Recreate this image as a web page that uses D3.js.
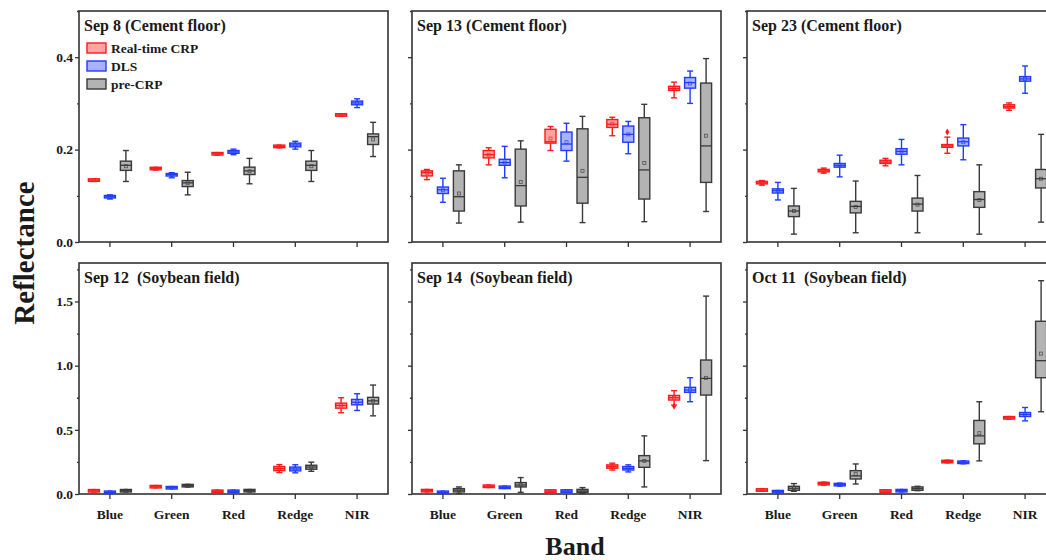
<!DOCTYPE html>
<html>
<head>
<meta charset="utf-8">
<style>
  body { margin: 0; background: #fff; }
  svg { display: block; overflow: hidden; }
  text { font-family: "Liberation Serif", "Times New Roman", serif; font-weight: bold; fill: #1a1a1a; }
</style>
<script src="https://d3js.org/d3.v7.min.js"></script>
</head>
<body>
<script>
// bands and series
var bands = ["Blue", "Green", "Red", "Redge", "NIR"];
var series = ["Real-time CRP", "DLS", "pre-CRP"];

// each row: [min, q1, median, q3, max, mean]
var sep8Real = [[0.131,0.133,0.134,0.135,0.136,0.134],[0.156,0.158,0.159,0.160,0.161,0.159],[0.188,0.190,0.191,0.192,0.193,0.191],[0.204,0.206,0.207,0.208,0.209,0.207],[0.272,0.274,0.275,0.276,0.277,0.275]];
var sep8Dls = [[0.093,0.096,0.098,0.100,0.102,0.098],[0.139,0.143,0.146,0.148,0.150,0.146],[0.189,0.192,0.195,0.198,0.201,0.195],[0.201,0.206,0.210,0.214,0.218,0.210],[0.291,0.297,0.301,0.305,0.310,0.301]];
var sep8Pre = [[0.131,0.155,0.166,0.175,0.198,0.164],[0.102,0.120,0.128,0.133,0.151,0.127],[0.126,0.146,0.154,0.162,0.181,0.153],[0.131,0.155,0.166,0.175,0.198,0.164],[0.185,0.211,0.228,0.234,0.259,0.222]];

var sep13Real = [[0.135,0.143,0.150,0.154,0.157,0.150],[0.167,0.182,0.189,0.198,0.204,0.189],[0.198,0.214,0.217,0.244,0.250,0.224],[0.230,0.248,0.255,0.265,0.270,0.256],[0.312,0.328,0.332,0.337,0.346,0.332]];
var sep13Dls = [[0.086,0.105,0.113,0.119,0.138,0.112],[0.139,0.166,0.172,0.179,0.207,0.172],[0.175,0.198,0.212,0.238,0.257,0.216],[0.191,0.216,0.233,0.251,0.261,0.233],[0.300,0.333,0.345,0.356,0.370,0.343]];
var sep13Pre = [[0.041,0.067,0.098,0.154,0.167,0.105],[0.043,0.078,0.122,0.201,0.219,0.130],[0.042,0.084,0.140,0.245,0.272,0.154],[0.044,0.093,0.156,0.269,0.298,0.171],[0.066,0.129,0.208,0.344,0.397,0.230]];

var sep23Real = [[0.123,0.126,0.128,0.131,0.133,0.128],[0.149,0.152,0.154,0.157,0.160,0.154],[0.165,0.170,0.173,0.177,0.181,0.173],[0.192,0.205,0.208,0.211,0.227,0.208],[0.285,0.290,0.293,0.297,0.301,0.293]];
var sep23Dls = [[0.091,0.106,0.111,0.115,0.129,0.111],[0.141,0.162,0.166,0.170,0.188,0.166],[0.167,0.190,0.196,0.202,0.222,0.196],[0.178,0.208,0.217,0.225,0.254,0.216],[0.322,0.348,0.353,0.358,0.381,0.353]];
var sep23Pre = [[0.017,0.055,0.067,0.078,0.116,0.067],[0.020,0.063,0.077,0.088,0.132,0.076],[0.020,0.067,0.082,0.095,0.144,0.081],[0.017,0.075,0.092,0.109,0.167,0.091],[0.043,0.117,0.137,0.157,0.233,0.137]];

var sep12Real = [[0.018,0.022,0.025,0.028,0.032,0.025],[0.050,0.054,0.057,0.060,0.064,0.057],[0.014,0.018,0.021,0.024,0.028,0.021],[0.167,0.182,0.198,0.214,0.229,0.198],[0.633,0.669,0.690,0.708,0.750,0.690]];
var sep12Dls = [[0.007,0.010,0.013,0.016,0.020,0.013],[0.043,0.046,0.049,0.052,0.056,0.049],[0.014,0.018,0.021,0.024,0.028,0.021],[0.165,0.180,0.195,0.210,0.228,0.195],[0.651,0.695,0.715,0.737,0.781,0.715]];
var sep12Pre = [[0.018,0.022,0.026,0.029,0.033,0.026],[0.056,0.061,0.065,0.069,0.074,0.065],[0.018,0.023,0.026,0.029,0.033,0.026],[0.177,0.193,0.210,0.224,0.248,0.210],[0.609,0.701,0.726,0.753,0.849,0.726]];

var sep14Real = [[0.020,0.023,0.026,0.029,0.032,0.026],[0.053,0.057,0.060,0.063,0.067,0.060],[0.017,0.020,0.023,0.026,0.029,0.023],[0.187,0.201,0.214,0.227,0.240,0.214],[0.693,0.732,0.750,0.768,0.805,0.750]];
var sep14Dls = [[0.007,0.010,0.013,0.016,0.019,0.013],[0.045,0.049,0.052,0.055,0.059,0.052],[0.017,0.020,0.023,0.026,0.029,0.023],[0.172,0.187,0.200,0.214,0.227,0.200],[0.719,0.792,0.810,0.831,0.906,0.810]];
var sep14Pre = [[0.003,0.016,0.030,0.042,0.055,0.030],[0.013,0.055,0.070,0.089,0.128,0.072],[0.003,0.013,0.023,0.036,0.050,0.024],[0.055,0.208,0.258,0.299,0.453,0.258],[0.260,0.771,0.901,1.044,1.542,0.905]];

var oct11Real = [[0.024,0.028,0.031,0.034,0.038,0.031],[0.070,0.077,0.081,0.085,0.092,0.081],[0.016,0.020,0.023,0.026,0.030,0.023],[0.244,0.249,0.253,0.257,0.262,0.253],[0.583,0.589,0.594,0.598,0.603,0.594]];
var oct11Dls = [[0.011,0.015,0.018,0.021,0.025,0.018],[0.062,0.069,0.073,0.077,0.084,0.073],[0.019,0.023,0.026,0.029,0.033,0.026],[0.236,0.242,0.247,0.252,0.258,0.247],[0.570,0.604,0.620,0.635,0.674,0.620]];
var oct11Pre = [[0.021,0.029,0.045,0.060,0.081,0.046],[0.078,0.117,0.141,0.182,0.234,0.155],[0.026,0.029,0.042,0.055,0.060,0.042],[0.258,0.391,0.453,0.573,0.719,0.474],[0.641,0.906,1.039,1.346,1.662,1.094]];

// outliers: [band index, series index, value]
var sep23Outliers = [[3, 0, 0.238]];
var sep14Outliers = [[4, 0, 0.683]];

var topTicks = [0, 0.2, 0.4];
var topMinor = [0.1, 0.3, 0.5];
var bottomTicks = [0, 0.5, 1.0, 1.5];
var bottomMinor = [0.25, 0.75, 1.25, 1.75];

var panels = [
  {title: "Sep 8 (Cement floor)", data: [sep8Real, sep8Dls, sep8Pre], outliers: [], row: 0, col: 0, legend: true},
  {title: "Sep 13 (Cement floor)", data: [sep13Real, sep13Dls, sep13Pre], outliers: [], row: 0, col: 1},
  {title: "Sep 23 (Cement floor)", data: [sep23Real, sep23Dls, sep23Pre], outliers: sep23Outliers, row: 0, col: 2},
  {title: "Sep 12\u00a0 (Soybean field)", data: [sep12Real, sep12Dls, sep12Pre], outliers: [], row: 1, col: 0},
  {title: "Sep 14\u00a0 (Soybean field)", data: [sep14Real, sep14Dls, sep14Pre], outliers: sep14Outliers, row: 1, col: 1},
  {title: "Oct 11\u00a0 (Soybean field)", data: [oct11Real, oct11Dls, oct11Pre], outliers: [], row: 1, col: 2}
];

var strokes = ["#ff1a1a", "#1f3cff", "#3a3a3a"];
var fills = ["#ffa3a3", "#a9b2ff", "#b3b3b3"];

var width = 1046, height = 560;
var colX = [79, 412, 747], panelW = 309;
var rowY = [[11, 242], [263, 494]];
var rowMax = [0.5, 1.8];

var svg = d3.select("body").append("svg").attr("width", width).attr("height", height);

panels.forEach(function(p) {
  var x0 = colX[p.col], top = rowY[p.row][0], bottom = rowY[p.row][1];
  var g = svg.append("g");

  var x = d3.scaleBand().domain(bands).range([x0, x0 + panelW]).padding(0);
  var off = d3.scalePoint().domain(series).range([-16, 16]);
  var y = d3.scaleLinear().domain([0, rowMax[p.row]]).range([bottom, top]);

  // axes
  var major = p.row === 0 ? topTicks : bottomTicks;
  var minor = p.row === 0 ? topMinor : bottomMinor;
  var yAxis = d3.axisLeft(y).tickValues(major).tickSize(4).tickPadding(2)
    .tickFormat(p.col === 0 ? d3.format(".1f") : function() { return ""; });
  var ya = g.append("g").attr("transform", "translate(" + x0 + ",0)").call(yAxis);
  var yMin = g.append("g").attr("transform", "translate(" + x0 + ",0)")
    .call(d3.axisLeft(y).tickValues(minor).tickSize(2).tickFormat(""));
  var xAxis = d3.axisBottom(x).tickSize(5).tickPadding(10)
    .tickFormat(p.row === 1 ? function(d) { return d; } : function() { return ""; });
  var xa = g.append("g").attr("transform", "translate(0," + bottom + ")").call(xAxis);
  [ya, yMin, xa].forEach(function(a) {
    a.select(".domain").remove();
    a.selectAll("line").attr("stroke", "#333").attr("stroke-width", 1.3);
    a.selectAll("text").attr("font-size", 13.5).attr("font-family", "Liberation Serif").attr("font-weight", "bold").attr("fill", "#1a1a1a");
  });

  // frame
  g.append("rect").attr("x", x0).attr("y", top).attr("width", panelW).attr("height", bottom - top)
    .attr("fill", "none").attr("stroke", "#333").attr("stroke-width", 1.6);

  // boxes
  p.data.forEach(function(rows, si) {
    var s = series[si];
    rows.forEach(function(v, bi) {
      var cx = x(bands[bi]) + x.bandwidth() / 2 + off(s);
      var bw = 11, cap = 6;
      var bg = g.append("g");
      bg.append("line").attr("x1", cx).attr("x2", cx).attr("y1", y(v[0])).attr("y2", y(v[4]))
        .attr("stroke", strokes[si]).attr("stroke-width", 1.4);
      [v[0], v[4]].forEach(function(w) {
        bg.append("line").attr("x1", cx - cap / 2).attr("x2", cx + cap / 2).attr("y1", y(w)).attr("y2", y(w))
          .attr("stroke", strokes[si]).attr("stroke-width", 1.4);
      });
      var yq3 = y(v[3]), yq1 = y(v[1]);
      var h = Math.max(yq1 - yq3, 2.5);
      var yc = (yq1 + yq3) / 2;
      bg.append("rect").attr("x", cx - bw / 2).attr("y", yc - h / 2).attr("width", bw).attr("height", h)
        .attr("fill", fills[si]).attr("stroke", strokes[si]).attr("stroke-width", 1.4);
      bg.append("line").attr("x1", cx - bw / 2).attr("x2", cx + bw / 2).attr("y1", y(v[2])).attr("y2", y(v[2]))
        .attr("stroke", strokes[si]).attr("stroke-width", 1.3);
      bg.append("rect").attr("x", cx - 1.5).attr("y", y(v[5]) - 1.5).attr("width", 3).attr("height", 3)
        .attr("fill", "none").attr("stroke", strokes[si]).attr("stroke-width", 0.8).attr("opacity", 0.8);
    });
  });

  // outliers
  p.outliers.forEach(function(o) {
    var cx = x(bands[o[0]]) + x.bandwidth() / 2 + off(series[o[1]]);
    g.append("path").attr("d", d3.symbol(d3.symbolDiamond, 14)())
      .attr("transform", "translate(" + cx + "," + y(o[2]) + ")")
      .attr("fill", strokes[o[1]]);
  });

  // title
  g.append("text").attr("x", x0 + 5).attr("y", top + 20).attr("font-size", 16).text(p.title);

  // legend
  if (p.legend) {
    series.forEach(function(s, i) {
      var ly = top + 32 + i * 18;
      g.append("rect").attr("x", x0 + 8).attr("y", ly).attr("width", 19).attr("height", 10)
        .attr("fill", fills[i]).attr("stroke", strokes[i]).attr("stroke-width", 1.4);
      g.append("text").attr("x", x0 + 32).attr("y", ly + 9.5).attr("font-size", 13.5).text(s);
    });
  }
});

// axis titles
svg.append("text").attr("transform", "translate(34,253) rotate(-90)").attr("text-anchor", "middle")
  .attr("font-size", 29).text("Reflectance");
svg.append("text").attr("x", 575).attr("y", 555).attr("text-anchor", "middle")
  .attr("font-size", 26).text("Band");
</script>
</body>
</html>
